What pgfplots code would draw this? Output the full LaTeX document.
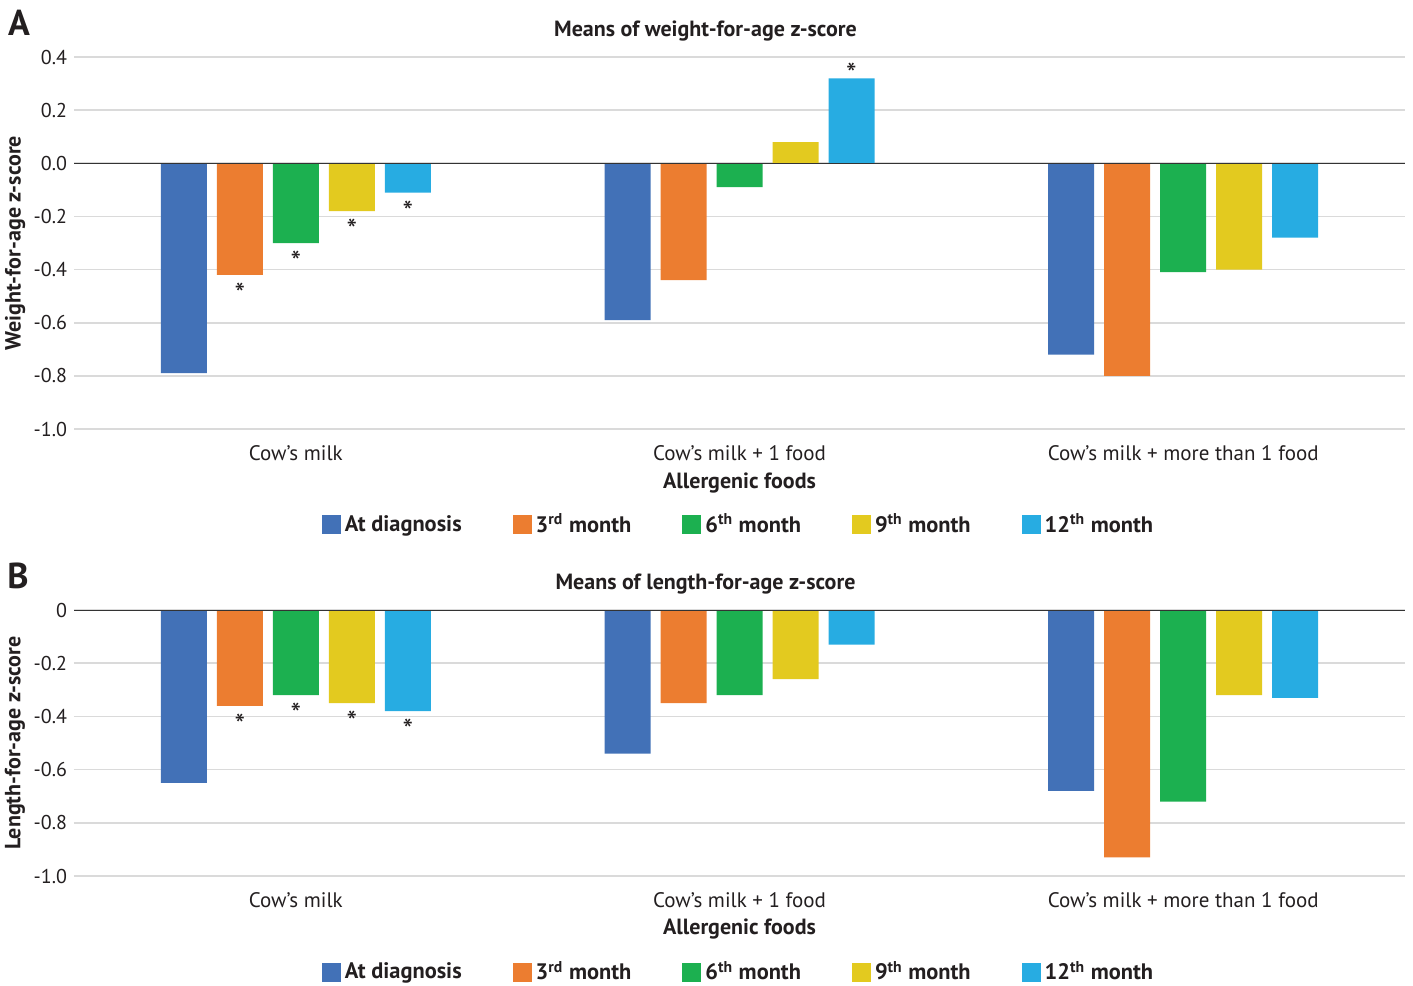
\documentclass[border=0pt]{standalone}
\usepackage{fontspec}
\setmainfont{PT Sans}
\usepackage{pgfplots}
\pgfplotsset{compat=1.18}
\definecolor{cblue}{HTML}{4271B7}
\definecolor{corange}{HTML}{EC7D30}
\definecolor{cgreen}{HTML}{1CB050}
\definecolor{cyellow}{HTML}{E3CA1F}
\definecolor{ccyan}{HTML}{27ACE2}
\definecolor{gridgray}{HTML}{DADADA}
\definecolor{zeroline}{HTML}{333333}
\definecolor{txt}{HTML}{231F20}

\pgfplotsset{
  zbar/.style={
    scale only axis, width=665.5pt,
    ybar=5pt, bar width=23pt,
    xmin=-0.5, xmax=2.5, xtick={0,1,2},
    xticklabels={Cow’s milk, Cow’s milk + 1 food, Cow’s milk + more than 1 food},
    axis line style={draw=none}, major tick length=0pt,
    ymajorgrids, grid style={line width=0.8pt, color=gridgray},
    /pgf/number format/assume math mode=true,
    tick label style={font=\fontsize{10}{12}\selectfont, text=txt},
    xticklabel style={yshift=-4.5pt, font=\fontsize{10.5}{12}\selectfont},
    xlabel={Allergenic foods},
    label style={font=\bfseries\fontsize{11}{13}\selectfont, text=txt},
    ylabel style={at={(axis description cs:-0.0443,0.5)}, anchor=center},
    title style={at={(axis description cs:0.5,1)}, anchor=center, yshift=7pt,
      xshift=-17pt, font=\bfseries\fontsize{11}{13}\selectfont, text=txt},
    legend columns=-1,
    legend style={draw=none, fill=none, anchor=center,
      font=\bfseries\fontsize{11.2}{13}\selectfont, text=txt,
      /tikz/every even column/.append style={column sep=23.5pt}},
    legend image code/.code={\fill[##1] (0pt,-4.75pt) rectangle (9.5pt,4.75pt);},
    nodes near coords, point meta=explicit symbolic,
    visualization depends on={rawy \as \rawy},
    every node near coord/.append style={font=\fontsize{15}{15}\selectfont, text=txt,
      inner sep=1pt,
      /utils/exec={\ifdim\rawy pt<0pt \def\myanc{north}\def\mysh{-3pt}%
        \else\def\myanc{south}\def\mysh{-4.5pt}\fi},
      anchor=\myanc, yshift=\mysh},
  }
}

\begin{document}
\begin{tikzpicture}
\useasboundingbox (0,0) rectangle (706.5pt,-492.5pt);

\node[font=\bfseries\fontsize{18}{20}\selectfont, text=txt] at (9.5pt,-11.25pt) {A};
\node[font=\bfseries\fontsize{18}{20}\selectfont, text=txt] at (9pt,-287.75pt) {B};

% Panel A
\begin{axis}[zbar, at={(37pt,-214.5pt)}, anchor=south west, height=186pt,
  ymin=-1, ymax=0.4, ytick={-1,-0.8,-0.6,-0.4,-0.2,0,0.2,0.4},
  yticklabels={-1.0,-0.8,-0.6,-0.4,-0.2,0.0,0.2,0.4},
  ylabel={Weight-for-age z-score},
  title={Means of weight-for-age z-score},
  xlabel style={at={(axis description cs:0.5,-0.1455)}, anchor=center},
  legend style={at={(axis description cs:0.5,-0.258)}}]
\addplot[fill=cblue, draw=none] coordinates {(0,-0.79) [] (1,-0.59) [] (2,-0.72) []};
\addplot[fill=corange, draw=none] coordinates {(0,-0.42) [*] (1,-0.44) [] (2,-0.80) []};
\addplot[fill=cgreen, draw=none] coordinates {(0,-0.30) [*] (1,-0.09) [] (2,-0.41) []};
\addplot[fill=cyellow, draw=none] coordinates {(0,-0.18) [*] (1,0.08) [] (2,-0.40) []};
\addplot[fill=ccyan, draw=none] coordinates {(0,-0.11) [*] (1,0.32) [*] (2,-0.28) []};
\draw[color=zeroline, line width=0.7pt] (axis cs:-0.5,0) -- (axis cs:2.5,0);
\legend{At diagnosis, 3\textsuperscript{rd} month, 6\textsuperscript{th} month, 9\textsuperscript{th} month, 12\textsuperscript{th} month}
\end{axis}

% Panel B
\begin{axis}[zbar, at={(37pt,-438pt)}, anchor=south west, height=133pt,
  ymin=-1, ymax=0, ytick={-1,-0.8,-0.6,-0.4,-0.2,0},
  yticklabels={-1.0,-0.8,-0.6,-0.4,-0.2,0},
  ylabel={Length-for-age z-score},
  title={Means of length-for-age z-score},
  xlabel style={at={(axis description cs:0.5,-0.2)}, anchor=center},
  legend style={at={(axis description cs:0.5,-0.361)}}]
\addplot[fill=cblue, draw=none] coordinates {(0,-0.65) [] (1,-0.54) [] (2,-0.68) []};
\addplot[fill=corange, draw=none] coordinates {(0,-0.36) [*] (1,-0.35) [] (2,-0.93) []};
\addplot[fill=cgreen, draw=none] coordinates {(0,-0.32) [*] (1,-0.32) [] (2,-0.72) []};
\addplot[fill=cyellow, draw=none] coordinates {(0,-0.35) [*] (1,-0.26) [] (2,-0.32) []};
\addplot[fill=ccyan, draw=none] coordinates {(0,-0.38) [*] (1,-0.13) [] (2,-0.33) []};
\draw[color=zeroline, line width=0.7pt] (axis cs:-0.5,0) -- (axis cs:2.5,0);
\legend{At diagnosis, 3\textsuperscript{rd} month, 6\textsuperscript{th} month, 9\textsuperscript{th} month, 12\textsuperscript{th} month}
\end{axis}
\end{tikzpicture}
\end{document}
